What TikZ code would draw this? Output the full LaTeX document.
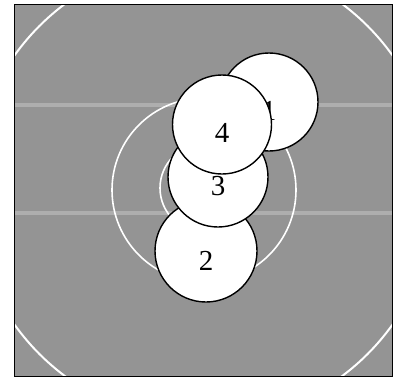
\documentclass[tikz,border=0pt]{standalone}
\usepackage{fontspec}
\setmainfont{Liberation Serif}
\begin{document}
\begin{tikzpicture}[x=1pt,y=-1pt,
  disc/.style={circle,draw=black,fill=white,line width=1.4pt,inner sep=0pt},
  digit/.style={inner sep=0pt,font=\fontsize{29}{29}\selectfont},
  ring/.style={draw=white,line width=1.6pt},
  streak/.style={draw=white,opacity=0.25,line width=3.5pt}]
\useasboundingbox (0,0) rectangle (399,378);
\fill[white] (0,0) rectangle (399,378);
% field
\path[fill=black!42] (14,4) rectangle (392,376);
\begin{scope}
  \clip (14,4) rectangle (392,376);
  \draw[streak] (14,105) -- (392,105);
  \draw[streak] (14,213) -- (392,213);
  \draw[ring,line width=2pt] (203.5,190) circle[radius=232pt];
\end{scope}
\draw[black,line width=1pt] (14,4) rectangle (392,376);
% inner rings
\draw[ring] (204,190) circle[radius=92pt];
\draw[ring] (204,188) circle[radius=44pt];
% discs
\node[disc,minimum size=102pt] (c2) at (206,251) {};
\node[digit] (l2) at ([yshift=-10pt]c2.center) {2};
\node[disc,minimum size=100pt] (c3) at (218,177) {};
\node[digit] (l3) at ([yshift=-9pt]c3.center) {3};
\node[disc,minimum size=98pt] (c1) at (269,102) {};
\node[digit] (l1) at ([yshift=-9pt]c1.center) {1};
\node[disc,minimum size=99pt] (c4) at (222,124.5) {};
\node[digit] (l4) at ([yshift=-8pt]c4.center) {4};
\end{tikzpicture}
\end{document}
